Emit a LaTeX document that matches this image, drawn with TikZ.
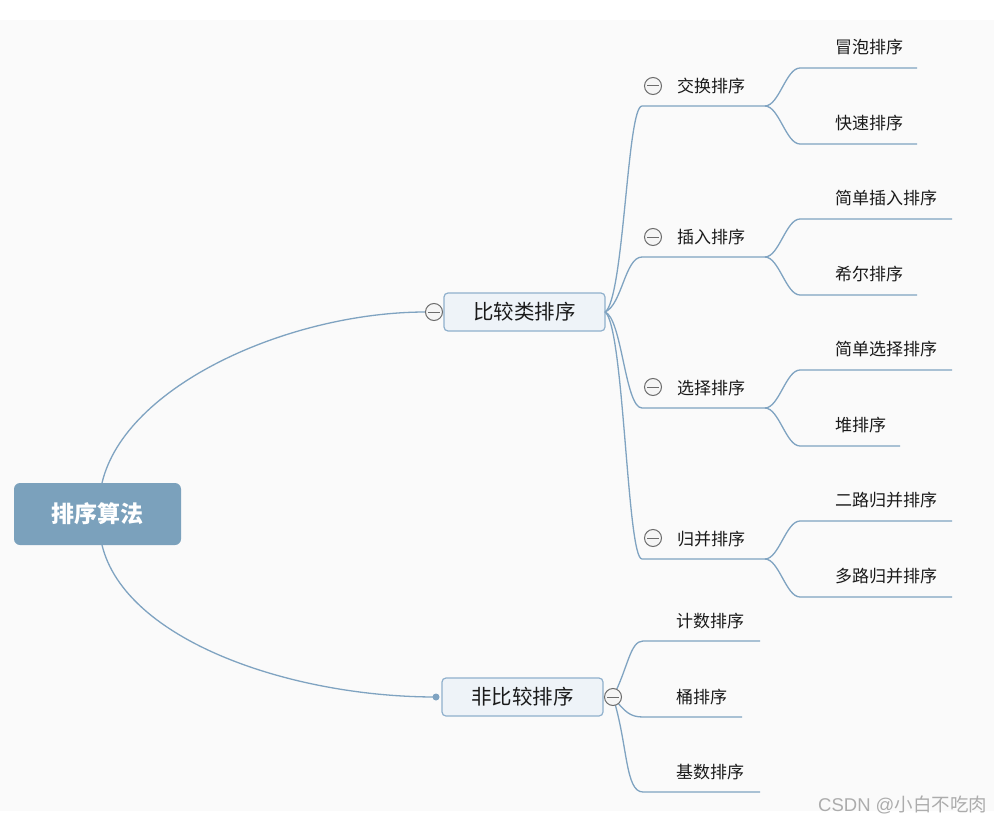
\documentclass[tikz,border=0pt]{standalone}
\usepackage{fontspec}
\usetikzlibrary{calc}
\setmainfont{Noto Sans CJK SC}
\newfontfamily\wmfont{Liberation Sans}
\newfontfamily\wmcjk{Noto Sans CJK SC}
\definecolor{linec}{HTML}{7FA3C1}
\definecolor{rootc}{HTML}{7BA1BC}
\definecolor{boxf}{HTML}{EEF3F8}
\definecolor{boxd}{HTML}{8FB0CC}
\definecolor{bgc}{HTML}{FAFAFA}
\definecolor{txt}{HTML}{1A1A1A}
\tikzset{
  conn/.style={draw=linec, line width=1.3pt},
  rootbox/.style={rounded corners=6pt, fill=rootc, minimum width=167pt, minimum height=62pt, text=white, font=\fontsize{23}{25}\selectfont\bfseries, inner sep=0pt},
  mainbox/.style={rounded corners=4pt, draw=boxd, line width=1.2pt, fill=boxf, minimum width=161pt, minimum height=38pt, text=txt, font=\fontsize{20.5}{22}\selectfont, inner sep=0pt},
  lbl/.style={text=txt, font=\fontsize{17}{19}\selectfont, anchor=west, inner sep=0pt},
  toggle/.style={circle, draw=gray!85!black, line width=1pt, fill=white!96!black, minimum size=17pt, inner sep=0pt,
     path picture={\draw[gray!85!black, line width=1pt] ([xshift=-6pt]path picture bounding box.center) -- ([xshift=6pt]path picture bounding box.center);}},
  dotc/.style={circle, fill=linec, minimum size=7pt, inner sep=0pt}
}
\begin{document}
\begin{tikzpicture}[x=1pt,y=-1pt]
\useasboundingbox (0,0) rectangle (1004,824);
\fill[white] (0,0) rectangle (1004,824);
\fill[bgc] (0,20) rectangle (994,811);

% root
\node[rootbox] (root) at (97.5,514) {排序算法};
\coordinate (rtop) at (102,483);
\coordinate (rbot) at (102,545);

% main boxes
\node[mainbox] (cmp) at (524.5,312) {比较类排序};
\node[mainbox] (ncmp) at (522.5,697) {非比较排序};
\coordinate (cmpR) at (605,312);
\coordinate (ncmpL) at (436,697);

% root connectors
\draw[conn] (rtop) .. controls (125,385) and (290,312) .. (426,312);
\draw[conn] (rbot) .. controls (125,640) and (290,697) .. (ncmpL);
\node[toggle] (tcmp) at (434,312) {};
\node[dotc] (dn) at (ncmpL) {};

% level 2 under compare
\foreach \n/\t/\y in {a/交换排序/106, b/插入排序/257, c/选择排序/408, d/归并排序/559}{
  \coordinate (\n s) at (642,\y);
  \coordinate (\n e) at (765,\y);
  \node[lbl] (\n l) at (677,\y-20) {\t};
}
\draw[conn] (cmpR) .. controls (624,300) and (627,106) .. (as) -- (ae);
\draw[conn] (cmpR) .. controls (622,305) and (625,257) .. (bs) -- (be);
\draw[conn] (cmpR) .. controls (622,318) and (625,408) .. (cs) -- (ce);
\draw[conn] (cmpR) .. controls (624,325) and (627,559) .. (ds) -- (de);
\foreach \n/\y in {a/86, b/237, c/387, d/538}{
  \node[toggle] (t\n) at (653,\y) {};
}

% level 3
\foreach \p/\n/\t/\y/\xe in {a/a1/冒泡排序/68/917, a/a2/快速排序/144/917,
  b/b1/简单插入排序/219/952, b/b2/希尔排序/295/917,
  c/c1/简单选择排序/370/952, c/c2/堆排序/446/900,
  d/d1/二路归并排序/521/952, d/d2/多路归并排序/597/952}{
  \coordinate (\n s) at (800,\y);
  \coordinate (\n e) at (\xe,\y);
  \node[lbl] (\n l) at (835,\y-21) {\t};
  \draw[conn] (\p e) .. controls ($(\p e)+(14,0)$) and ($(\n s)+(-14,0)$) .. (\n s) -- (\n e);
}

% non-compare children
\coordinate (tnc) at (613,697);
\foreach \n/\t/\y/\xe in {e1/计数排序/641/760, e2/桶排序/717/742, e3/基数排序/792/760}{
  \coordinate (\n s) at (643,\y);
  \coordinate (\n e) at (\xe,\y);
  \node[lbl] (\n l) at (676,\y-20) {\t};
}
\draw[conn] (tnc) .. controls (628,668) and (630,641) .. (e1s) -- (e1e);
\draw[conn] (tnc) .. controls (625,712) and (630,717) .. (e2s) -- (e2e);
\draw[conn] (tnc) .. controls (628,745) and (625,792) .. (e3s) -- (e3e);
\node[toggle] (tn) at (tnc) {};

% watermark
\node[anchor=base west, text=gray!65, inner sep=0pt] (wm) at (818,811) {\fontsize{18.5}{20}\selectfont\wmfont CSDN @\wmcjk 小白不吃肉};
\end{tikzpicture}
\end{document}
